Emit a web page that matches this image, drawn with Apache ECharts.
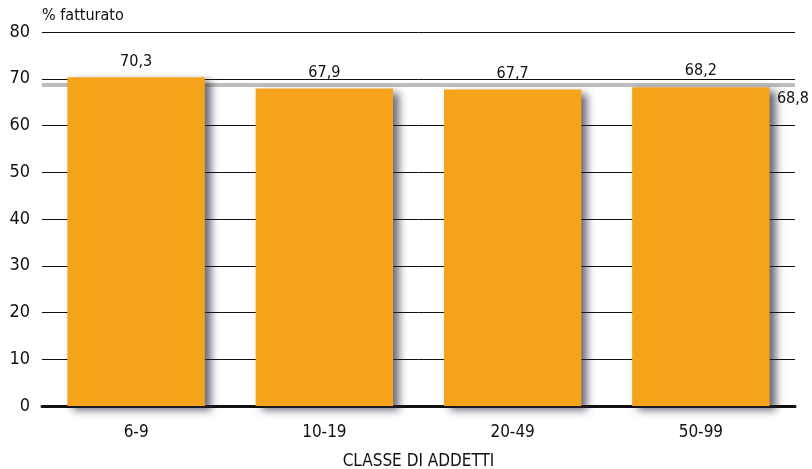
<!DOCTYPE html>
<html>
<head>
<meta charset="utf-8">
<script src="https://cdn.jsdelivr.net/npm/echarts@6/dist/echarts.min.js"></script>
<style>
  html, body { margin: 0; padding: 0; background: #fff; }
  #chart { width: 812px; height: 469px; }
</style>
</head>
<body>
<div id="chart"></div>
<script>
const categories = ['6-9', '10-19', '20-49', '50-99'];
const values = [70.3, 67.9, 67.7, 68.2];
const average = 68.8;
const yTicks = [0, 10, 20, 30, 40, 50, 60, 70, 80];

const font = '"Liberation Sans Narrow", "DejaVu Sans Condensed", sans-serif';
const fmt = v => String(v).replace('.', ',');

const chart = echarts.init(document.getElementById('chart'));
chart.setOption({
  animation: false,
  textStyle: { fontFamily: font },
  grid: { left: 42, right: 17, top: 32, bottom: 63, outerBoundsMode: 'none', containLabel: false },
  xAxis: {
    type: 'category',
    data: categories,
    name: 'CLASSE DI ADDETTI',
    nameLocation: 'middle',
    nameGap: 47,
    nameTextStyle: { fontFamily: font, fontSize: 17, color: '#111' },
    axisLine: { lineStyle: { color: '#111', width: 3 } },
    axisTick: { show: false },
    axisLabel: { fontFamily: font, fontSize: 17, color: '#111', margin: 18 }
  },
  yAxis: {
    type: 'value',
    min: yTicks[0],
    max: yTicks[yTicks.length - 1],
    interval: 10,
    name: '% fatturato',
    nameLocation: 'end',
    nameGap: 8,
    nameTextStyle: { fontFamily: font, fontSize: 16, color: '#111', align: 'left', verticalAlign: 'bottom' },
    axisLine: { show: false },
    axisTick: { show: false },
    axisLabel: { fontFamily: font, fontSize: 18, color: '#111', margin: 12 },
    splitLine: { lineStyle: { color: '#111', width: 1 } }
  },
  series: [{
    type: 'bar',
    data: values,
    barWidth: '73%',
    itemStyle: {
      color: '#F6A31C',
      shadowColor: 'rgba(40,40,60,0.7)',
      shadowBlur: 8,
      shadowOffsetX: 6,
      shadowOffsetY: 4
    },
    label: {
      show: true,
      position: 'top',
      distance: 8,
      fontFamily: font,
      fontSize: 16,
      color: '#111',
      formatter: p => fmt(p.value)
    },
    markLine: {
      silent: true,
      symbol: 'none',
      z: 1,
      lineStyle: { color: '#bdbdbd', width: 4, type: 'solid' },
      label: {
        position: 'insideEndBottom',
        distance: 6,
        fontFamily: font,
        fontSize: 16,
        color: '#111',
        offset: [20, 0],
        formatter: () => fmt(average)
      },
      data: [{ yAxis: average }]
    }
  }]
});
</script>
</body>
</html>
